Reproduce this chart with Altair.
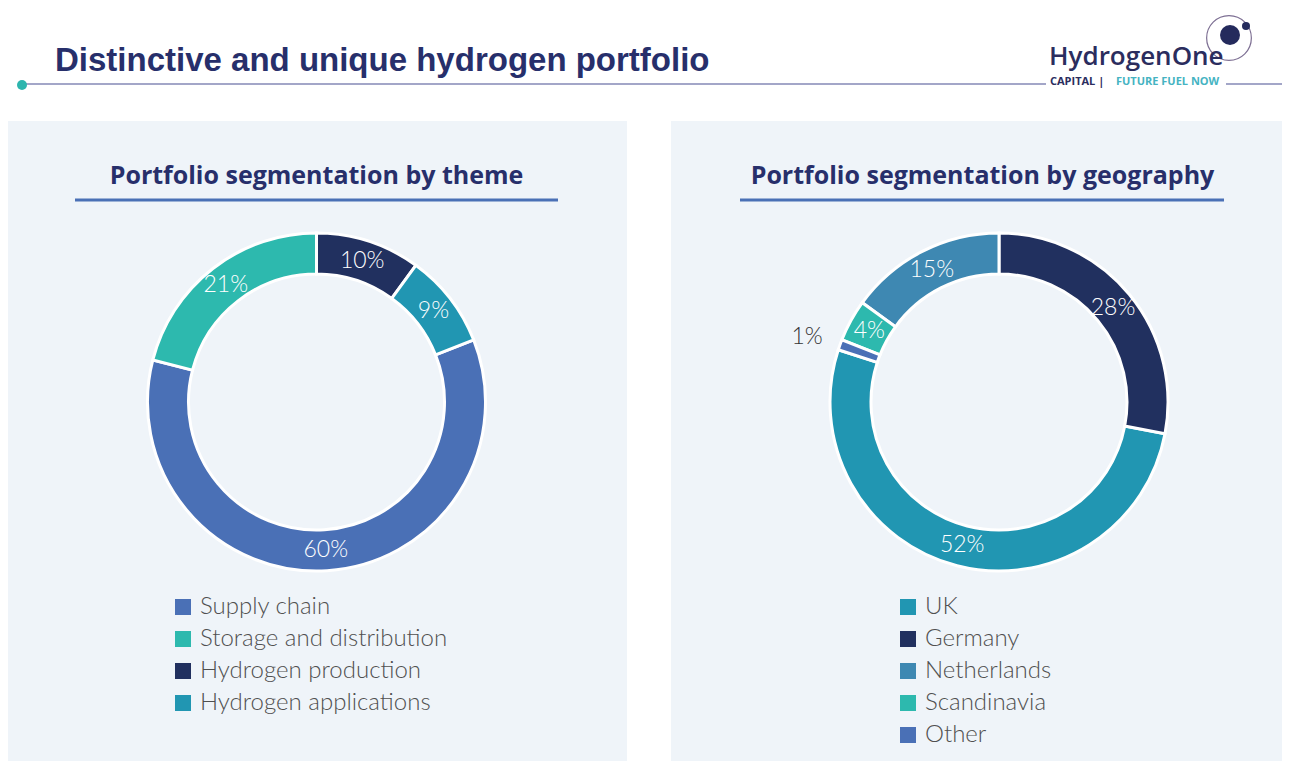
import altair as alt
import pandas as pd

# ---------------- data ----------------
theme_labels = ["Supply chain", "Storage and distribution", "Hydrogen production", "Hydrogen applications"]
theme_values = [60, 21, 10, 9]
theme_order = [3, 4, 1, 2]          # clockwise position from 12 o'clock
theme_colors = ["#4a70b6", "#2db9ae", "#21305f", "#2196b2"]

geo_labels = ["UK", "Germany", "Netherlands", "Scandinavia", "Other"]
geo_values = [52, 28, 15, 4, 1]
geo_order = [2, 1, 5, 4, 3]
geo_colors = ["#2196b2", "#21305f", "#3e88b2", "#2db9ae", "#4a70b6"]

main_title = "Distinctive and unique hydrogen portfolio"
left_title = "Portfolio segmentation by theme"
right_title = "Portfolio segmentation by geography"
logo_name = "HydrogenOne"
logo_sub1 = "CAPITAL  |"
logo_sub2 = "FUTURE FUEL NOW"

# ---------------- helpers ----------------
OX, OY = 8, 8
W, H = 1274, 753


def px(v):
    return v - OX


def py(v):
    return v - OY


one = pd.DataFrame({"k": [0]})
NAVY = "#272f6b"
PANEL = "#eff4f9"


def rect(x1, x2, y1, y2, color):
    return alt.Chart(one).mark_rect(color=color).encode(
        x=alt.value(px(x1)), x2=alt.value(px(x2)), y=alt.value(py(y1)), y2=alt.value(py(y2))
    )


def hrule(x1, x2, y, color, width):
    return alt.Chart(one).mark_rule(color=color, strokeWidth=width).encode(
        x=alt.value(px(x1)), x2=alt.value(px(x2)), y=alt.value(py(y))
    )


def label(txt, x, y, size, color, font="Lato", weight="bold", align="left"):
    return alt.Chart(one).mark_text(
        text=txt, font=font, fontSize=size, fontWeight=weight, color=color,
        align=align, baseline="alphabetic"
    ).encode(x=alt.value(px(x)), y=alt.value(py(y)))


def dot(x, y, size, color, filled=True, stroke_w=1.5):
    if filled:
        m = alt.Chart(one).mark_point(shape="circle", filled=True, size=size, color=color, opacity=1)
    else:
        m = alt.Chart(one).mark_point(shape="circle", filled=False, size=size, color=color,
                                      strokeWidth=stroke_w, opacity=1)
    return m.encode(x=alt.value(px(x)), y=alt.value(py(y)))


def donut(labels, values, order, colors, cx, cy, lx, ly):
    df = pd.DataFrame({"cat": labels, "pct": values, "ord": order})
    base = alt.Chart(df)
    color = alt.Color(
        "cat:N",
        sort=labels,
        scale=alt.Scale(domain=labels, range=colors),
        legend=alt.Legend(
            orient="none", legendX=px(lx), legendY=py(ly), title=None,
            symbolType="square", symbolSize=256, symbolStrokeWidth=0, symbolOpacity=1,
            labelFont="Lato", labelFontSize=24, labelFontWeight=300, labelColor="#505050",
            labelOffset=5, rowPadding=8, labelLimit=500, padding=0, direction="vertical",
        ),
    )
    theta_scale = alt.Scale(domain=[0, 100])
    arc = base.mark_arc(radius=169, radius2=128, stroke="white", strokeWidth=3).encode(
        theta=alt.Theta("pct:Q", stack=True, scale=theta_scale),
        order=alt.Order("ord:Q"),
        color=color,
        x=alt.value(px(cx)),
        y=alt.value(py(cy)),
    )
    lab = base.transform_window(
        cum="sum(pct)", sort=[alt.SortField("ord")]
    ).transform_calculate(mid="datum.cum - datum.pct / 2", txt="datum.pct + '%'")
    inner = lab.transform_filter("datum.pct >= 2").mark_text(
        radius=148, font="Lato", fontSize=23, fontWeight=300, color="white",
        align="center", baseline="middle"
    ).encode(
        theta=alt.Theta("mid:Q", scale=theta_scale), text="txt:N",
        x=alt.value(px(cx)), y=alt.value(py(cy)),
    )
    outer = lab.transform_filter("datum.pct < 2").mark_text(
        radius=204, font="Lato", fontSize=23, fontWeight=300, color="#333333",
        align="center", baseline="middle", dy=4
    ).encode(
        theta=alt.Theta("mid:Q", scale=theta_scale), text="txt:N",
        x=alt.value(px(cx)), y=alt.value(py(cy)),
    )
    return alt.layer(arc, inner, outer)


# ---------------- decorations ----------------
decor = [
    rect(6, 627, 121, 769, PANEL),
    rect(671, 1290, 121, 769, PANEL),
    hrule(22, 1046, 84, "#a3a6c8", 2),
    hrule(1226, 1290, 84, "#a3a6c8", 2),
    dot(22, 85, 100, "#2db5ae"),
    label(main_title, 55, 71, 33, NAVY, font="Liberation Sans"),
    # logo
    dot(1229, 38, 2000, "#7d6f93", filled=False, stroke_w=1.2),
    dot(1230, 35, 400, "#242a5c"),
    dot(1246, 26, 64, "#242a5c"),
    label(logo_name, 1049, 65, 26, "#2b2d5e", font="Open Sans", weight=600),
    label(logo_sub1, 1050, 85, 11, "#2b2d5e", font="Open Sans", weight="bold"),
    label(logo_sub2, 1116, 85, 11, "#45b3c2", font="Open Sans", weight="bold"),
    # panel titles
    label(left_title, 316.5, 184, 25, NAVY, font="Open Sans", align="center"),
    hrule(75, 558, 200, "#4a70b6", 3),
    label(right_title, 982.5, 184, 25, NAVY, font="Open Sans", align="center"),
    hrule(740, 1224, 200, "#4a70b6", 3),
]

left = donut(theme_labels, theme_values, theme_order, theme_colors, 316.5, 402, 171, 595)
right = donut(geo_labels, geo_values, geo_order, geo_colors, 999, 402, 896, 595)

chart = alt.layer(*decor, left, right).resolve_scale(color="independent").properties(
    width=W, height=H, padding=0, autosize="none", background="white"
).configure_view(stroke=None)

chart.save("out.html", embed_options={"renderer": "svg", "actions": False})
